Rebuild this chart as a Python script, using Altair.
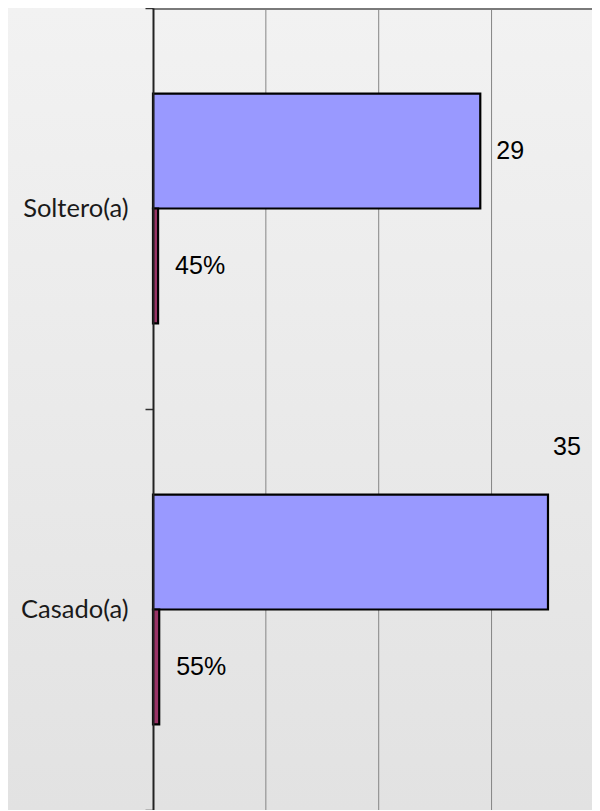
import altair as alt
import pandas as pd

categories = ["Soltero(a)", "Casado(a)"]
series = ["Frecuencia", "Porcentaje"]
frecuencia = [29, 35]
porcentaje = [0.45, 0.55]
freq_labels = ["29", "35"]
pct_labels = ["45%", "55%"]
grid_values = [10, 20, 30]

rows = []
for i, c in enumerate(categories):
    rows.append({"cat": c, "serie": series[0], "value": frecuencia[i], "label": freq_labels[i]})
    rows.append({"cat": c, "serie": series[1], "value": porcentaje[i], "label": pct_labels[i]})
df = pd.DataFrame(rows)
grid_df = pd.DataFrame({"g": grid_values})

W = 439
H = 802
LEFT = 145

x_scale = alt.Scale(domain=[0, 38.9], nice=False, zero=True)
y_enc = alt.Y(
    "cat:N",
    sort=categories,
    scale=alt.Scale(paddingInner=0, paddingOuter=0),
    axis=alt.Axis(
        title=None,
        labelFont="Lato",
        labelFontSize=25.5,
        labelColor="#1a1a1a",
        tickBand="extent",
        tickSize=8,
        tickColor="#333333",
        tickWidth=1.5,
        domainColor="#222222",
        domainWidth=2,
        labelPadding=17,
        grid=False,
        zindex=1,
    ),
)
yoff = alt.YOffset("serie:N", sort=series, scale=alt.Scale(paddingInner=0, paddingOuter=0.746))

background = alt.Chart(alt.Data(values=[{}])).mark_rect(
    fill=alt.LinearGradient(
        gradient="linear",
        x1=0, x2=0, y1=0, y2=1,
        stops=[
            alt.GradientStop(offset=0, color="#f2f2f2"),
            alt.GradientStop(offset=1, color="#e2e2e2"),
        ],
    )
).encode(x=alt.value(-LEFT), x2=alt.value(W), y=alt.value(0), y2=alt.value(H))

top_line = alt.Chart(alt.Data(values=[{"a": 1}])).mark_rect(
    fill="#7a7a7a", stroke="#7a7a7a", strokeWidth=1, opacity=1
).encode(x=alt.value(0), x2=alt.value(W), y=alt.value(0.5), y2=alt.value(1.5))

grid = alt.Chart(grid_df).mark_rule(color="#858585", strokeWidth=1).encode(
    x=alt.X("g:Q", scale=x_scale, axis=None)
)

bars = alt.Chart(df).mark_bar(stroke="black", strokeWidth=2.2).encode(
    x=alt.X("value:Q", scale=x_scale, axis=None),
    y=y_enc,
    yOffset=yoff,
    color=alt.Color(
        "serie:N",
        sort=series,
        scale=alt.Scale(domain=series, range=["#9999ff", "#993366"]),
        legend=None,
    ),
)

text_base = alt.Chart(df).encode(
    x=alt.X("value:Q", scale=x_scale, axis=None),
    y=alt.Y("cat:N", sort=categories),
    yOffset=yoff,
    text="label:N",
)
text_style = dict(font="Liberation Sans", fontSize=25, color="black", align="left", baseline="middle")

t_sol = text_base.transform_filter(
    (alt.datum.serie == series[0]) & (alt.datum.cat == categories[0])
).mark_text(dx=16, **text_style)
t_cas = text_base.transform_filter(
    (alt.datum.serie == series[0]) & (alt.datum.cat == categories[1])
).mark_text(dx=5, dy=-105, **text_style)
t_pct = text_base.transform_filter(alt.datum.serie == series[1]).mark_text(dx=17, **text_style)

chart = alt.layer(background, grid, bars, t_sol, t_cas, t_pct, top_line).properties(
    width=W,
    height=H,
    padding={"left": LEFT, "top": 0, "right": 0, "bottom": 0},
    autosize=alt.AutoSizeParams(type="none"),
    background="#f2f2f2",
).configure_view(stroke=None)

chart.save("out.html", embed_options={"renderer": "svg", "actions": False})
